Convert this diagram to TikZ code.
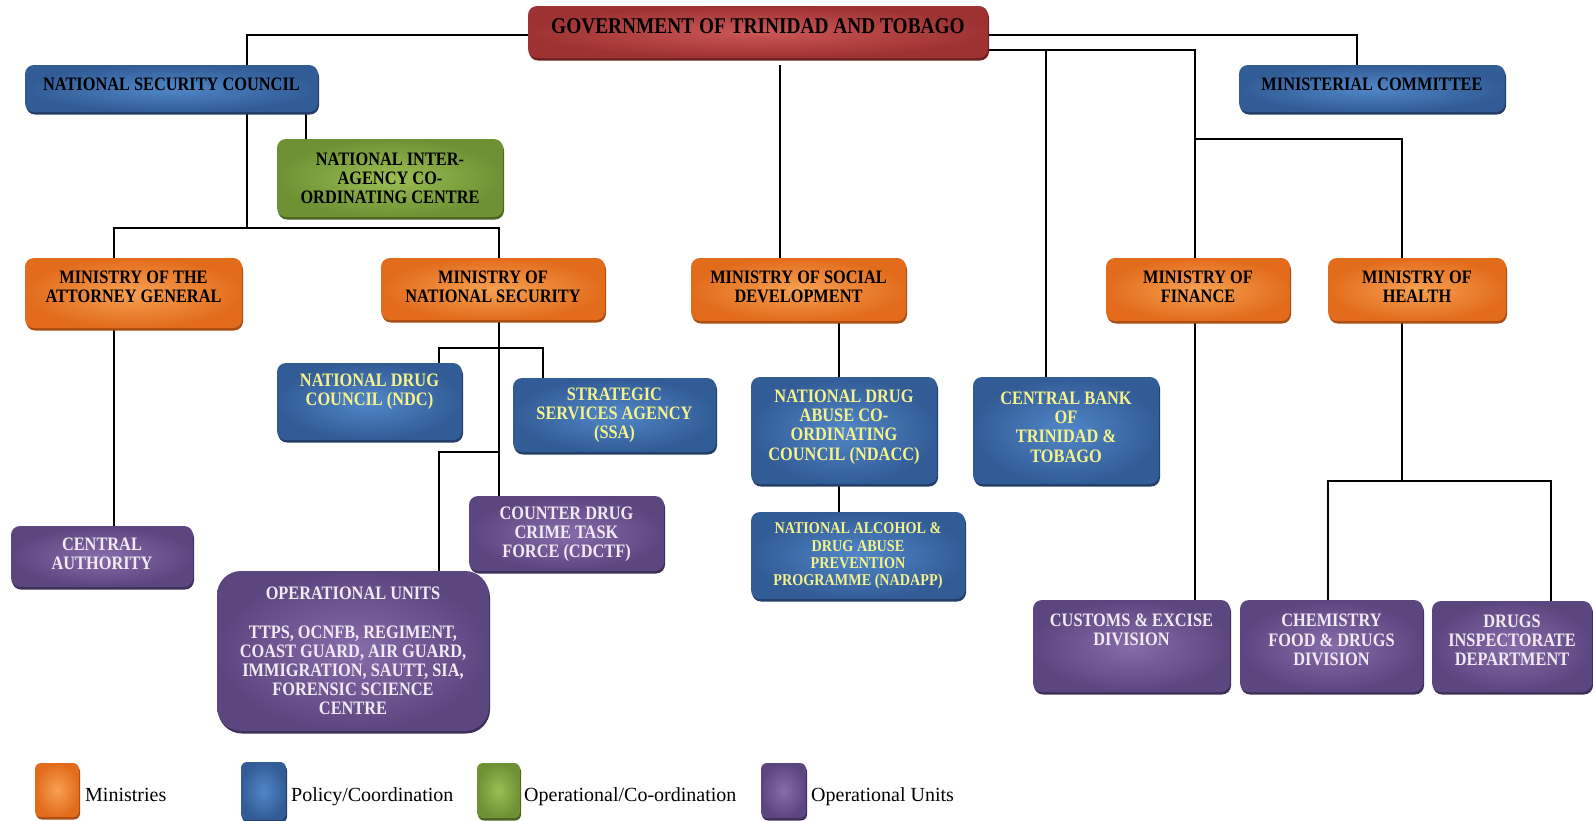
\documentclass[tikz,border=0pt]{standalone}
\usepackage{fontspec}
\newfontfamily\boxfont[FakeStretch=0.86]{Liberation Serif}
\newfontfamily\legfont{Liberation Serif}
\usetikzlibrary{shadows,backgrounds}
\definecolor{oinner}{RGB}{247,160,82}
\definecolor{oouter}{RGB}{226,108,28}
\definecolor{oshadow}{RGB}{170,78,20}
\definecolor{binner}{RGB}{80,135,200}
\definecolor{bouter}{RGB}{50,92,150}
\definecolor{bshadow}{RGB}{35,62,105}
\definecolor{ginner}{RGB}{155,190,85}
\definecolor{gouter}{RGB}{110,145,52}
\definecolor{gshadow}{RGB}{75,100,35}
\definecolor{pinner}{RGB}{135,108,170}
\definecolor{pouter}{RGB}{92,70,128}
\definecolor{pshadow}{RGB}{62,46,88}
\definecolor{rinner}{RGB}{205,88,88}
\definecolor{router}{RGB}{158,50,50}
\definecolor{rshadow}{RGB}{110,32,32}
\definecolor{yeltxt}{RGB}{246,242,140}
\definecolor{whtxt}{RGB}{240,234,242}
\newcommand\obox[9]{%
  \node[#2, minimum width={#5-#3}, minimum height={#6-#4}] (#1) at ({(#3+#5)/2},{(#4+#6)/2}) {};
  \node[#7] (#1-t) at ({(#3+#5)/2},#8) {#9};
}
\begin{document}
\begin{tikzpicture}[x=1pt,y=-1pt,
  basebox/.style={rectangle, rounded corners=9pt, inner sep=0pt, draw=none},
  orangebox/.style={basebox, inner color=oinner, outer color=oouter,
    general shadow={fill=oshadow, shadow xshift=1pt, shadow yshift=-2.5pt}},
  bluebox/.style={basebox, inner color=binner, outer color=bouter,
    general shadow={fill=bshadow, shadow xshift=1pt, shadow yshift=-2.5pt}},
  greenbox/.style={basebox, inner color=ginner, outer color=gouter,
    general shadow={fill=gshadow, shadow xshift=1pt, shadow yshift=-2.5pt}},
  purplebox/.style={basebox, inner color=pinner, outer color=pouter,
    general shadow={fill=pshadow, shadow xshift=1pt, shadow yshift=-2.5pt}},
  purplebigbox/.style={purplebox, rounded corners=24pt},
  redbox/.style={basebox, inner color=rinner, outer color=router,
    general shadow={fill=rshadow, shadow xshift=1pt, shadow yshift=-2.5pt}},
  txtbase/.style={inner sep=0pt, align=center, font=\boxfont\bfseries\fontsize{19}{19.2}\selectfont},
  blacktext/.style={txtbase, text=black},
  yeltext/.style={txtbase, text=yeltxt},
  whitetext/.style={txtbase, text=whtxt},
  yelsmall/.style={txtbase, text=yeltxt, font=\boxfont\bfseries\fontsize{16.5}{17.3}\selectfont},
  govtext/.style={txtbase, text=black, font=\boxfont\bfseries\fontsize{22.5}{24}\selectfont},
  legtext/.style={inner sep=0pt, anchor=base west, font=\legfont\fontsize{20}{22}\selectfont},
  conn/.style={draw=black, line width=1.5pt}
]
\useasboundingbox (0,0) rectangle (1593,820);

\obox{GOV}{redbox}{528}{6}{988}{58}{govtext}{26}{GOVERNMENT OF TRINIDAD AND TOBAGO}
\obox{NSC}{bluebox}{25}{65}{318}{112}{blacktext}{84}{NATIONAL SECURITY COUNCIL}
\obox{MC}{bluebox}{1239}{65}{1505}{112}{blacktext}{84}{MINISTERIAL COMMITTEE}
\obox{NIACC}{greenbox}{277}{139}{503}{217}{blacktext}{178}{NATIONAL INTER-\\AGENCY CO-\\ORDINATING CENTRE}
\obox{AG}{orangebox}{25}{258}{242}{328}{blacktext}{287}{MINISTRY OF THE\\ATTORNEY GENERAL}
\obox{NATSEC}{orangebox}{381}{258}{605}{320}{blacktext}{287}{MINISTRY OF\\NATIONAL SECURITY}
\obox{MSD}{orangebox}{691}{258}{906}{321}{blacktext}{287}{MINISTRY OF SOCIAL\\DEVELOPMENT}
\obox{MOF}{orangebox}{1106}{258}{1290}{321}{blacktext}{287}{MINISTRY OF\\FINANCE}
\obox{MOH}{orangebox}{1328}{258}{1506}{321}{blacktext}{287}{MINISTRY OF\\HEALTH}
\obox{NDC}{bluebox}{277}{363}{462}{440}{yeltext}{392}{NATIONAL DRUG\\COUNCIL (NDC)}
\obox{SSA}{bluebox}{513}{378}{716}{452}{yeltext}{415}{STRATEGIC\\SERVICES AGENCY\\(SSA)}
\obox{NDACC}{bluebox}{751}{377}{937}{484}{yeltext}{427}{NATIONAL DRUG\\ABUSE CO-\\ORDINATING\\COUNCIL (NDACC)}
\obox{CB}{bluebox}{973}{377}{1159}{484}{yeltext}{427}{CENTRAL BANK\\OF\\TRINIDAD \&\\TOBAGO}
\obox{NADAPP}{bluebox}{751}{512}{965}{599}{yelsmall}{556}{NATIONAL ALCOHOL \&\\DRUG ABUSE\\PREVENTION\\PROGRAMME (NADAPP)}
\obox{CA}{purplebox}{11}{526}{193}{587}{whitetext}{554}{CENTRAL\\AUTHORITY}
\obox{CDCTF}{purplebox}{469}{496}{664}{571}{whitetext}{534}{COUNTER DRUG\\CRIME TASK\\FORCE (CDCTF)}
\obox{OU}{purplebigbox}{217}{571}{489}{731}{whitetext}{651}{OPERATIONAL UNITS\\[19.2pt]TTPS, OCNFB, REGIMENT,\\COAST GUARD, AIR GUARD,\\IMMIGRATION, SAUTT, SIA,\\FORENSIC SCIENCE\\CENTRE}
\obox{CUSTOMS}{purplebox}{1033}{600}{1230}{692}{whitetext}{630}{CUSTOMS \& EXCISE\\DIVISION}
\obox{CHEM}{purplebox}{1240}{600}{1423}{692}{whitetext}{640}{CHEMISTRY\\FOOD \& DRUGS\\DIVISION}
\obox{DRUGS}{purplebox}{1432}{601}{1592}{692}{whitetext}{640}{DRUGS\\INSPECTORATE\\DEPARTMENT}

% legend
\node[orangebox, rounded corners=6pt, minimum width=44, minimum height=54] (L1) at (57,790) {};
\node[bluebox, rounded corners=6pt, minimum width=45, minimum height=58] (L2) at (263.5,791) {};
\node[greenbox, rounded corners=6pt, minimum width=43, minimum height=55] (L3) at (498.5,790.5) {};
\node[purplebox, rounded corners=6pt, minimum width=45, minimum height=55] (L4) at (783.5,790.5) {};
\node[legtext] (L1t) at (85,801.5) {Ministries};
\node[legtext] (L2t) at (291,801.5) {Policy/Coordination};
\node[legtext] (L3t) at (524,801.5) {Operational/Co-ordination};
\node[legtext] (L4t) at (811,801.5) {Operational Units};

% junction coordinates
\coordinate (c1) at (247,35);
\coordinate (c2) at (247,228);
\coordinate (c3) at (114,228);
\coordinate (c4) at (499,228);
\coordinate (c5) at (306,0);
\coordinate (c6) at (780,0);
\coordinate (c7) at (1357,35);
\coordinate (c8) at (1195,50);
\coordinate (c9) at (1046,50);
\coordinate (c10) at (1195,139);
\coordinate (c11) at (1402,139);
\coordinate (c13) at (439,348);
\coordinate (c14) at (543,348);
\coordinate (c15) at (439,452);
\coordinate (c16) at (839,0);
\coordinate (c17) at (1328,481);
\coordinate (c18) at (1551,481);

\begin{pgfonlayer}{background}
\fill[white] (0,0) rectangle (1593,820);
\draw[conn] (GOV.west |- c1) -- (c1) -- (c1 |- NSC.north);
\draw[conn] (NSC.south -| c2) -- (c2);
\draw[conn] (AG.north -| c3) -- (c3) -- (c4) -- (NATSEC.north -| c4);
\draw[conn] (NSC.south -| c5) -- (NIACC.north -| c5);
\draw[conn, shorten <=7pt] (GOV.south -| c6) -- (MSD.north -| c6);
\draw[conn] (GOV.east |- c7) -- (c7) -- (MC.north -| c7);
\draw[conn] (GOV.east |- c8) -- (c8) -- (MOF.north -| c8);
\draw[conn] (c9) -- (CB.north -| c9);
\draw[conn] (c10) -- (c11) -- (MOH.north -| c11);
\draw[conn] (AG.south -| c3) -- (CA.north -| c3);
\draw[conn] (NATSEC.south -| c4) -- (CDCTF.north -| c4);
\draw[conn] (NDC.north -| c13) -- (c13) -- (c14) -- (SSA.north -| c14);
\draw[conn] (c15 -| c4) -- (c15) -- (OU.north -| c15);
\draw[conn] (MSD.south -| c16) -- (NDACC.north -| c16);
\draw[conn] (NDACC.south -| c16) -- (NADAPP.north -| c16);
\draw[conn] (MOF.south -| c8) -- (CUSTOMS.north -| c8);
\draw[conn] (MOH.south -| c11) -- (c11 |- c17);
\draw[conn] (CHEM.north -| c17) -- (c17) -- (c18) -- (DRUGS.north -| c18);
\end{pgfonlayer}
\end{tikzpicture}
\end{document}
